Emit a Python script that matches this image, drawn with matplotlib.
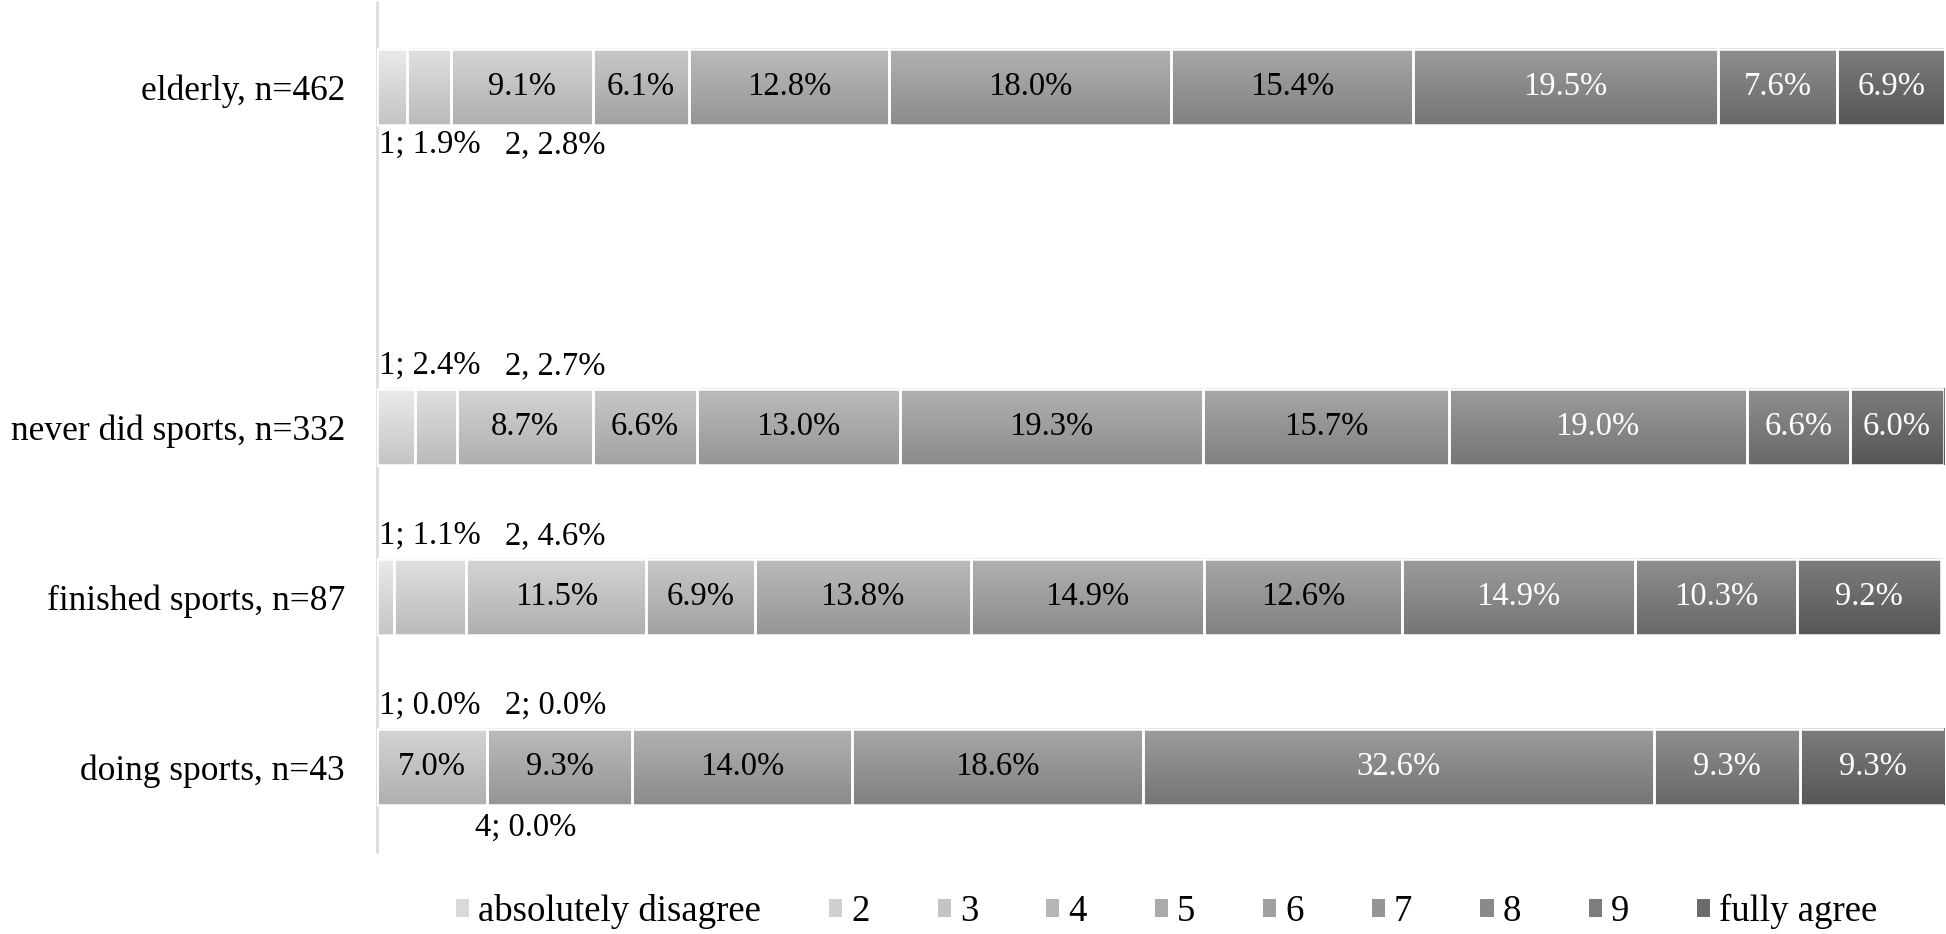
import numpy as np
import matplotlib
matplotlib.use("Agg")
import matplotlib.pyplot as plt
from matplotlib.patches import Patch

plt.rcParams['font.family'] = ['Liberation Serif', 'DejaVu Serif']

categories = ["doing sports, n=43", "finished sports, n=87", "never did sports, n=332", "elderly, n=462"]
ypos = [0, 1, 2, 4]
levels = ["absolutely disagree", "2", "3", "4", "5", "6", "7", "8", "9", "fully agree"]

doing = [0.0, 0.0, 7.0, 0.0, 9.3, 14.0, 18.6, 32.6, 9.3, 9.3]
finished = [1.1, 4.6, 11.5, 6.9, 13.8, 14.9, 12.6, 14.9, 10.3, 9.2]
never = [2.4, 2.7, 8.7, 6.6, 13.0, 19.3, 15.7, 19.0, 6.6, 6.0]
elderly = [1.9, 2.8, 9.1, 6.1, 12.8, 18.0, 15.4, 19.5, 7.6, 6.9]
series = [doing, finished, never, elderly]

grays = [0.85, 0.81, 0.765, 0.715, 0.665, 0.625, 0.585, 0.54, 0.49, 0.42]

fig = plt.figure(figsize=(19.46, 9.34), dpi=100)
ax = fig.add_axes([0.1937, 0.088, 0.8053, 0.91])

data = np.array(series)  # rows: categories, cols: levels
lefts = np.zeros(len(series))
bar_h = 0.45
lab_fs = 23.5
for j in range(len(levels)):
    vals = data[:, j]
    g = grays[j]
    bars = ax.barh(ypos, vals, left=lefts, height=bar_h, color=(g, g, g),
                   edgecolor='none', zorder=2)
    for rect, v in zip(bars, vals):
        if v <= 0:
            continue
        x0, y0, w, h = rect.get_x(), rect.get_y(), rect.get_width(), rect.get_height()
        col = np.linspace(min(g + 0.07, 1), max(g - 0.08, 0), 60)
        img = np.dstack([col, col, col]).reshape(60, 1, 3)
        ax.imshow(img, extent=[x0, x0 + w, y0, y0 + h], aspect='auto',
                  interpolation='bilinear', zorder=3)
    ax.barh(ypos, vals, left=lefts, height=bar_h, fill=False,
            edgecolor='white', linewidth=1.8, zorder=4)
    # inside labels
    for k, v in enumerate(vals):
        show_inside = not (j <= 1 or v == 0)
        if show_inside:
            tc = 'white' if j >= 7 else 'black'
            ax.text(lefts[k] + v / 2, ypos[k], f"{v:.1f}%", ha='center', va='center',
                    fontsize=lab_fs, color=tc, zorder=5)
    lefts = lefts + vals

# outside (small segment) labels
out_labels = [
    (3.4, 4 - 0.34, "1; 1.9%"), (11.4, 4 - 0.34, "2, 2.8%"),
    (3.4, 2 + 0.36, "1; 2.4%"), (11.4, 2 + 0.36, "2, 2.7%"),
    (3.4, 1 + 0.36, "1; 1.1%"), (11.4, 1 + 0.36, "2, 4.6%"),
    (3.4, 0 + 0.36, "1; 0.0%"), (11.4, 0 + 0.36, "2; 0.0%"),
    (9.5, 0 - 0.36, "4; 0.0%"),
]
for x, y, t in out_labels:
    ax.text(x, y, t, ha='center', va='center', fontsize=lab_fs, color='black')

ax.set_xlim(0, 100)
ax.set_ylim(-0.5, 4.5)
ax.set_yticks(ypos)
ax.set_yticklabels(categories, fontsize=25.5)
ax.tick_params(axis='y', length=0, pad=23)
ax.set_xticks([])
for s in ['top', 'right', 'bottom']:
    ax.spines[s].set_visible(False)
ax.spines['left'].set_color('#d9d9d9')
ax.spines['left'].set_linewidth(1.8)

handles = [Patch(facecolor=(g, g, g), edgecolor='none') for g in grays]
fig.legend(handles, levels, loc='center', bbox_to_anchor=(0.5996, 0.024), ncol=10,
           frameon=False, fontsize=26.5, handlelength=0.36, handleheight=0.36,
           handletextpad=0.24, columnspacing=1.85)

fig.savefig("out.png", dpi=100)
